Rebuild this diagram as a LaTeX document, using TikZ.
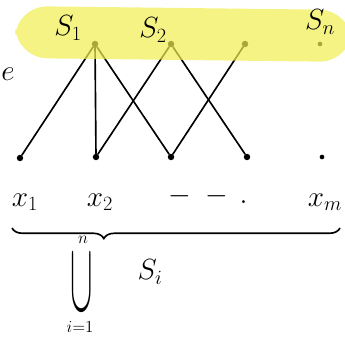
\documentclass[tikz,border=0pt]{standalone}
\usepackage{graphicx}
\usetikzlibrary{decorations.pathreplacing}
\definecolor{hl}{RGB}{240,238,80}
\begin{document}
\begin{tikzpicture}[x=0.03cm,y=-0.03cm,
  dot/.style={circle,fill=black,inner sep=0pt,minimum size=5.5pt},
  sdot/.style={circle,fill=black,inner sep=0pt,minimum size=4pt},
  edge/.style={line width=1.4pt,line cap=round},
  lab/.style={inner sep=0pt,font=\fontsize{27}{27}\selectfont},
  small/.style={inner sep=0pt,font=\fontsize{15}{15}\selectfont}]
\useasboundingbox (0,0) rectangle (345,343);
% top nodes
\node[dot] (s1) at (95,44) {};
\node[dot] (s2) at (171,44) {};
\node[dot] (s3) at (245,44) {};
\node[sdot] (sn) at (320,44) {};
% bottom nodes
\node[dot] (x1) at (20,158) {};
\node[dot] (x2) at (96,157) {};
\node[dot] (x3) at (171,157) {};
\node[dot] (x4) at (247,157) {};
\node[sdot] (xm) at (322,157) {};
% edges
\draw[edge] (s1) -- (x1);
\draw[edge] (s1) -- (x2);
\draw[edge] (s1) -- (x3);
\draw[edge] (s2) -- (x2);
\draw[edge] (s2) -- (x4);
\draw[edge] (s3) -- (x3);
% highlight band
\fill[hl,fill opacity=0.7,rounded corners=28] (15,6) -- (352,10) -- (352,62) -- (15,58) -- cycle;
% labels
\node[lab] (l1) at (68,28) {$S_1$};
\node[lab] (l2) at (153,30) {$S_2$};
\node[lab] (ln) at (320,22) {$S_n$};
\node[lab] (le) at (8,74) {$e$};
\node[lab] (lx1) at (25,202) {$x_1$};
\node[lab] (lx2) at (100,202) {$x_2$};
\node[lab] (ldots) at (208,196) {$-\;-\,.$};
\node[lab] (lxm) at (325,202) {$x_m$};
% brace
\draw[line width=1.4pt,decorate,decoration={brace,mirror,amplitude=9pt,aspect=0.28}] (12,228) -- (340,228);
% union
\node[inner sep=0pt] (cup) at (82,283) {\scalebox{1.15}[3.4]{\fontsize{27}{27}\selectfont$\cup$}};
\node[small] (n) at (83,240) {$n$};
\node[small] (i1) at (80,327) {$i{=}1$};
\node[lab] (si) at (150,272) {$S_i$};
\end{tikzpicture}
\end{document}
